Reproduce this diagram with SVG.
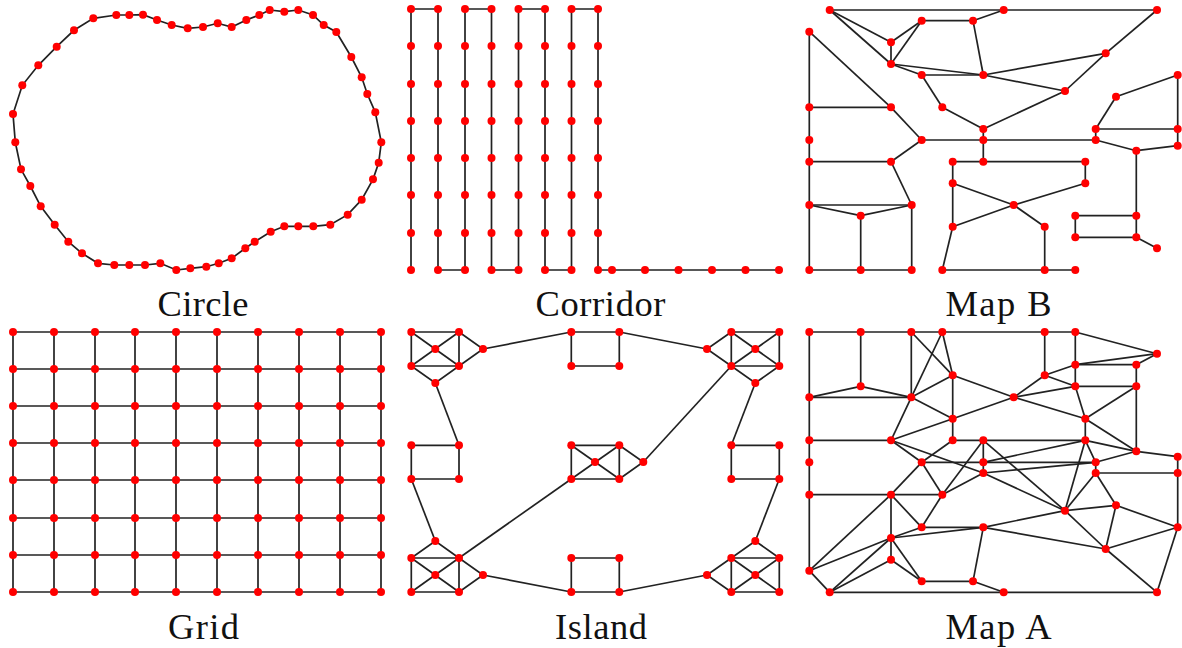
<svg xmlns="http://www.w3.org/2000/svg" width="1182" height="648" viewBox="0 0 1182 648">
<style>
#connectors path{fill:none;stroke:#222;stroke-width:1.7}
.n circle{fill:#f00;r:4px}
text{font-family:"Liberation Serif","Times New Roman",serif;font-size:36.500px;fill:#111;text-anchor:middle}
</style>
<rect width="1182" height="648" fill="#fff"/>
<g id="connectors">
<g id="edges-circle"><path d="M93.3 18.3L116.3 15L129.3 15L143 14.7L157 20L171.7 25L187.7 28.3L203 27L217.7 23.3L231.7 27L246.3 20L259.3 15L269.7 10L284.3 11.7L298.3 10L313 15L323.7 25L336.3 32L351.3 57L361.7 77.3L367.3 94L375.3 112.3L381.3 142.3L378.7 162.7L373 179.3L361.7 199.7L347.7 214.7L330.3 224.7L313.3 226.3L298.3 226.3L284.3 226.3L270.7 231.7L254.7 241.7L245.3 248.3L231.7 258.3L218.7 263.3L206.3 266.7L190.3 268.3L176.3 270L160.3 263.3L145 265L129.3 265L114.3 265L98 263.3L82 253.3L68.3 241.7L54.7 224.7L40.7 206.3L30.3 186L21 169.3L15.3 142.3L13 114L22.3 85.3L38.3 65.3L56.7 46.7L74 30.3Z"/></g>
<g id="edges-corridor"><path d="M411 270V9H438V270H465V9H491.500V270H518.500V9H545V270H571.500V9H598V270H779"/></g>
<g id="edges-grid"><path d="M13 332H381"/><path d="M13 369H381"/><path d="M13 406H381"/><path d="M13 443H381"/><path d="M13 480H381"/><path d="M13 518H381"/><path d="M13 555H381"/><path d="M13 592H381"/><path d="M13 332V592"/><path d="M54 332V592"/><path d="M95 332V592"/><path d="M135 332V592"/><path d="M176 332V592"/><path d="M217 332V592"/><path d="M258 332V592"/><path d="M299 332V592"/><path d="M340 332V592"/><path d="M381 332V592"/></g>
<g id="edges-island">
<path d="M411.300 332H459V366H411.300Z"/><path d="M411.300 332L459 366"/><path d="M459 332L411.300 366"/><path d="M459 332L483 349L459 366"/><path d="M411.300 366L435.300 383L459 366"/><path d="M483 349L571.300 332"/>
<path d="M619.300 366H571.300V332H619.300V366"/><path d="M619.300 332L707 349"/><path d="M731.300 332L707 349L731.300 366"/>
<path d="M731.300 332H779.300V366H731.300Z"/><path d="M731.300 332L779.300 366"/><path d="M779.300 332L731.300 366"/><path d="M731.300 366L755.300 383L779.300 366"/><path d="M755.300 383L731.300 445.300"/>
<path d="M731.300 445.300H779.300V479H731.300Z"/><path d="M779.300 479L755.300 541"/><path d="M731.300 558L755.300 541L779.300 558"/>
<path d="M731.300 558H779.300V592H731.300Z"/><path d="M731.300 558L779.300 592"/><path d="M779.300 558L731.300 592"/><path d="M731.300 558L707 575L731.300 592"/><path d="M707 575L619.300 592"/>
<path d="M571.300 558H619.300V592H571.300Z"/><path d="M571.300 592L483 575"/><path d="M459 558L483 575L459 592"/>
<path d="M411.300 558H459V592H411.300Z"/><path d="M411.300 558L459 592"/><path d="M459 558L411.300 592"/><path d="M411.300 558L435.300 541L459 558"/><path d="M435.300 541L411.300 479"/>
<path d="M411.300 445.300H459V479H411.300Z"/><path d="M435.300 383L459 445.300"/>
<path d="M571.300 445.300H619.300V479H571.300Z"/><path d="M571.300 445.300L619.300 479"/><path d="M619.300 445.300L571.300 479"/><path d="M619.300 445.300L643.300 462L619.300 479"/><path d="M643.300 462L731.300 366"/><path d="M571.300 479L459 558"/>
</g>
<g id="edges-mapb">
<path d="M829.700 10H1157"/><path d="M829.700 10L891 42.300"/><path d="M829.700 10L891 64"/><path d="M921.700 20.700H973"/><path d="M973 20.700L1003.700 10"/><path d="M921.700 20.700L891 42.300"/><path d="M921.700 20.700L891 64"/><path d="M891 42.300V64"/><path d="M973 20.700L983.300 75"/><path d="M891 64L983.300 75"/><path d="M891 64L921.700 75"/><path d="M921.700 75H983.300"/><path d="M983.300 75L1105.700 53.300"/><path d="M983.300 75L1065 91"/><path d="M1157 10L1105.700 53.300"/><path d="M1105.700 53.300L1065 91"/><path d="M1065 91L983.300 129"/><path d="M921.700 75L942.300 107.300"/><path d="M942.300 107.300L983.300 129"/><path d="M983.300 129V161.700"/><path d="M809.300 31.700V270"/><path d="M809.300 31.700L891 107.300"/><path d="M891 107.300L921.700 140"/><path d="M809.300 107.300H891"/><path d="M921.700 140H1095.700"/><path d="M1095.700 129V140"/><path d="M1095.700 129L1116 96.700"/><path d="M1116 96.700L1177.700 75"/><path d="M1177.700 75V145.700"/><path d="M1095.700 129H1177.700"/><path d="M1095.700 140L1136.300 150.700"/><path d="M1136.300 150.700L1177.700 145.700"/><path d="M921.700 140L891 161.700"/><path d="M809.300 161.700H891"/><path d="M891 161.700L911.700 205"/><path d="M952.700 161.700H1085.300"/><path d="M952.700 161.700V226.700"/><path d="M1085.300 161.700V183.300"/><path d="M952.700 183.300L1013.700 205"/><path d="M1085.300 183.300L1013.700 205"/><path d="M1013.700 205L952.700 226.700"/><path d="M1013.700 205L1044.700 226.700"/><path d="M1044.700 226.700V270"/><path d="M952.700 226.700L942.300 270"/><path d="M942.300 270H1075.300"/><path d="M1136.300 150.700V237.300"/><path d="M1075.300 215.700H1136.300"/><path d="M1075.300 215.700V237.300"/><path d="M1075.300 237.300H1136.300"/><path d="M1136.300 237.300L1157 248.300"/><path d="M809.300 205H911.700"/><path d="M809.300 205L860.700 215.700"/><path d="M911.700 205L860.700 215.700"/><path d="M860.700 215.700V270"/><path d="M911.700 205V270"/><path d="M809.300 270H911.700"/>
</g>
<g id="edges-mapa">
<path d="M809.300 332H1075.300"/><path d="M1075.300 332L1157 353.700"/><path d="M809.300 332V397.300"/><path d="M860.700 332V386.300"/><path d="M911.300 332V397.300"/><path d="M911.300 332L952.700 375.300"/><path d="M942.300 332L911.300 397.300"/><path d="M942.300 332L952.700 375.300"/><path d="M1044.700 332V375.300"/><path d="M1075.300 332V386.300"/><path d="M1157 353.700L1075.300 364.700"/><path d="M1157 353.700L1136.300 364.700"/><path d="M1075.300 364.700H1136.300"/><path d="M1044.700 375.300L1075.300 364.700"/><path d="M1044.700 375.300L1075.300 386.300"/><path d="M1044.700 375.300L1013.700 397.300"/><path d="M1075.300 386.300H1136.300"/><path d="M1075.300 386.300L1013.700 397.300"/><path d="M1075.300 386.300L1085.300 418.700"/><path d="M1136.300 364.700V451.300"/><path d="M1136.300 386.300L1085.300 418.700"/><path d="M952.700 375.300L911.300 397.300"/><path d="M952.700 375.300L1013.700 397.300"/><path d="M952.700 375.300V440.300"/><path d="M860.700 386.300L809.300 397.300"/><path d="M860.700 386.300L911.300 397.300"/><path d="M809.300 397.300H911.300"/><path d="M809.300 397.300V440.300"/><path d="M911.300 397.300L952.700 418.700"/><path d="M911.300 397.300L891 440.300"/><path d="M1013.700 397.300L952.700 418.700"/><path d="M1013.700 397.300L1085.300 418.700"/><path d="M952.700 418.700L891 440.300"/><path d="M1085.300 418.700V440.300"/><path d="M1085.300 418.700L1136.300 451.300"/><path d="M809.300 440.300H891"/><path d="M809.300 440.300V570.700"/><path d="M891 440.300L921.700 462.300"/><path d="M891 440.300L983.300 473"/><path d="M921.700 462.300L952.700 440.300"/><path d="M921.700 462.300H1095.700"/><path d="M952.700 440.300H1085.300"/><path d="M983.300 440.300V473"/><path d="M983.300 462.300L1085.300 440.300"/><path d="M1085.300 440.300L1136.300 451.300"/><path d="M1085.300 440.300L1095.700 462.300"/><path d="M1085.300 440.300L1065 510.700"/><path d="M1136.300 451.300L1177.700 456.700"/><path d="M1136.300 451.300L1095.700 462.300"/><path d="M1177.700 456.700V527.300"/><path d="M983.300 440.300L942.300 494.700"/><path d="M983.300 440.300L1065 510.700"/><path d="M983.300 473L1095.700 462.300"/><path d="M983.300 473L942.300 494.700"/><path d="M983.300 473L1065 510.700"/><path d="M921.700 462.300L891 494.700"/><path d="M921.700 462.300L942.300 494.700"/><path d="M1095.700 462.300V473"/><path d="M1095.700 473H1177.700"/><path d="M1095.700 473L1065 510.700"/><path d="M1095.700 473L1116 505.300"/><path d="M809.300 494.700H942.300"/><path d="M891 494.700L809.300 570.700"/><path d="M891 494.700V559.700"/><path d="M891 494.700L921.700 527.300"/><path d="M942.300 494.700L921.700 527.300"/><path d="M1116 505.300L1065 510.700"/><path d="M1116 505.300L1105.700 549"/><path d="M1116 505.300L1177.700 527.300"/><path d="M1065 510.700L983.300 527.300"/><path d="M1065 510.700L1105.700 549"/><path d="M921.700 527.300H983.300"/><path d="M921.700 527.300L891 538"/><path d="M983.300 527.300L891 538"/><path d="M983.300 527.300L1105.700 549"/><path d="M983.300 527.300L973 581.300"/><path d="M1105.700 549L1177.700 527.300"/><path d="M1105.700 549L1157 592.300"/><path d="M1177.700 527.300L1157 592.300"/><path d="M891 538L809.300 570.700"/><path d="M891 538L829.700 592.300"/><path d="M891 538L921.700 581.300"/><path d="M891 559.700L829.700 592.300"/><path d="M891 559.700L921.700 581.300"/><path d="M809.300 570.700L829.700 592.300"/><path d="M921.700 581.300H973"/><path d="M973 581.300L1003.700 592.300"/><path d="M829.700 592.300H1157"/>
</g>
</g>
<g id="nodes-circle" class="n">
<g id="c01"><circle cx="93.300" cy="18.300"/></g><g id="c02"><circle cx="116.300" cy="15"/></g><g id="c03"><circle cx="129.300" cy="15"/></g><g id="c04"><circle cx="143" cy="14.700"/></g><g id="c05"><circle cx="157" cy="20"/></g><g id="c06"><circle cx="171.700" cy="25"/></g><g id="c07"><circle cx="187.700" cy="28.300"/></g><g id="c08"><circle cx="203" cy="27"/></g><g id="c09"><circle cx="217.700" cy="23.300"/></g><g id="c10"><circle cx="231.700" cy="27"/></g><g id="c11"><circle cx="246.300" cy="20"/></g><g id="c12"><circle cx="259.300" cy="15"/></g><g id="c13"><circle cx="269.700" cy="10"/></g><g id="c14"><circle cx="284.300" cy="11.700"/></g><g id="c15"><circle cx="298.300" cy="10"/></g><g id="c16"><circle cx="313" cy="15"/></g><g id="c17"><circle cx="323.700" cy="25"/></g><g id="c18"><circle cx="336.300" cy="32"/></g><g id="c19"><circle cx="351.300" cy="57"/></g><g id="c20"><circle cx="361.700" cy="77.300"/></g><g id="c21"><circle cx="367.300" cy="94"/></g><g id="c22"><circle cx="375.300" cy="112.300"/></g><g id="c23"><circle cx="381.300" cy="142.300"/></g><g id="c24"><circle cx="378.700" cy="162.700"/></g><g id="c25"><circle cx="373" cy="179.300"/></g><g id="c26"><circle cx="361.700" cy="199.700"/></g><g id="c27"><circle cx="347.700" cy="214.700"/></g><g id="c28"><circle cx="330.300" cy="224.700"/></g><g id="c29"><circle cx="313.300" cy="226.300"/></g><g id="c30"><circle cx="298.300" cy="226.300"/></g><g id="c31"><circle cx="284.300" cy="226.300"/></g><g id="c32"><circle cx="270.700" cy="231.700"/></g><g id="c33"><circle cx="254.700" cy="241.700"/></g><g id="c34"><circle cx="245.300" cy="248.300"/></g><g id="c35"><circle cx="231.700" cy="258.300"/></g><g id="c36"><circle cx="218.700" cy="263.300"/></g><g id="c37"><circle cx="206.300" cy="266.700"/></g><g id="c38"><circle cx="190.300" cy="268.300"/></g><g id="c39"><circle cx="176.300" cy="270"/></g><g id="c40"><circle cx="160.300" cy="263.300"/></g><g id="c41"><circle cx="145" cy="265"/></g><g id="c42"><circle cx="129.300" cy="265"/></g><g id="c43"><circle cx="114.300" cy="265"/></g><g id="c44"><circle cx="98" cy="263.300"/></g><g id="c45"><circle cx="82" cy="253.300"/></g><g id="c46"><circle cx="68.300" cy="241.700"/></g><g id="c47"><circle cx="54.700" cy="224.700"/></g><g id="c48"><circle cx="40.700" cy="206.300"/></g><g id="c49"><circle cx="30.300" cy="186"/></g><g id="c50"><circle cx="21" cy="169.300"/></g><g id="c51"><circle cx="15.300" cy="142.300"/></g><g id="c52"><circle cx="13" cy="114"/></g><g id="c53"><circle cx="22.300" cy="85.300"/></g><g id="c54"><circle cx="38.300" cy="65.300"/></g><g id="c55"><circle cx="56.700" cy="46.700"/></g><g id="c56"><circle cx="74" cy="30.300"/></g>
</g>
<g id="nodes-corridor" class="n">
<g id="r01"><circle cx="411" cy="9"/></g><g id="r02"><circle cx="411" cy="46"/></g><g id="r03"><circle cx="411" cy="84"/></g><g id="r04"><circle cx="411" cy="121"/></g><g id="r05"><circle cx="411" cy="158"/></g><g id="r06"><circle cx="411" cy="195"/></g><g id="r07"><circle cx="411" cy="233"/></g><g id="r08"><circle cx="411" cy="270"/></g>
<g id="r11"><circle cx="438" cy="9"/></g><g id="r12"><circle cx="438" cy="46"/></g><g id="r13"><circle cx="438" cy="84"/></g><g id="r14"><circle cx="438" cy="121"/></g><g id="r15"><circle cx="438" cy="158"/></g><g id="r16"><circle cx="438" cy="195"/></g><g id="r17"><circle cx="438" cy="233"/></g><g id="r18"><circle cx="438" cy="270"/></g>
<g id="r21"><circle cx="465" cy="9"/></g><g id="r22"><circle cx="465" cy="46"/></g><g id="r23"><circle cx="465" cy="84"/></g><g id="r24"><circle cx="465" cy="121"/></g><g id="r25"><circle cx="465" cy="158"/></g><g id="r26"><circle cx="465" cy="195"/></g><g id="r27"><circle cx="465" cy="233"/></g><g id="r28"><circle cx="465" cy="270"/></g>
<g id="r31"><circle cx="491.500" cy="9"/></g><g id="r32"><circle cx="491.500" cy="46"/></g><g id="r33"><circle cx="491.500" cy="84"/></g><g id="r34"><circle cx="491.500" cy="121"/></g><g id="r35"><circle cx="491.500" cy="158"/></g><g id="r36"><circle cx="491.500" cy="195"/></g><g id="r37"><circle cx="491.500" cy="233"/></g><g id="r38"><circle cx="491.500" cy="270"/></g>
<g id="r41"><circle cx="518.500" cy="9"/></g><g id="r42"><circle cx="518.500" cy="46"/></g><g id="r43"><circle cx="518.500" cy="84"/></g><g id="r44"><circle cx="518.500" cy="121"/></g><g id="r45"><circle cx="518.500" cy="158"/></g><g id="r46"><circle cx="518.500" cy="195"/></g><g id="r47"><circle cx="518.500" cy="233"/></g><g id="r48"><circle cx="518.500" cy="270"/></g>
<g id="r51"><circle cx="545" cy="9"/></g><g id="r52"><circle cx="545" cy="46"/></g><g id="r53"><circle cx="545" cy="84"/></g><g id="r54"><circle cx="545" cy="121"/></g><g id="r55"><circle cx="545" cy="158"/></g><g id="r56"><circle cx="545" cy="195"/></g><g id="r57"><circle cx="545" cy="233"/></g><g id="r58"><circle cx="545" cy="270"/></g>
<g id="r61"><circle cx="571.500" cy="9"/></g><g id="r62"><circle cx="571.500" cy="46"/></g><g id="r63"><circle cx="571.500" cy="84"/></g><g id="r64"><circle cx="571.500" cy="121"/></g><g id="r65"><circle cx="571.500" cy="158"/></g><g id="r66"><circle cx="571.500" cy="195"/></g><g id="r67"><circle cx="571.500" cy="233"/></g><g id="r68"><circle cx="571.500" cy="270"/></g>
<g id="r71"><circle cx="598" cy="9"/></g><g id="r72"><circle cx="598" cy="46"/></g><g id="r73"><circle cx="598" cy="84"/></g><g id="r74"><circle cx="598" cy="121"/></g><g id="r75"><circle cx="598" cy="158"/></g><g id="r76"><circle cx="598" cy="195"/></g><g id="r77"><circle cx="598" cy="233"/></g><g id="r78"><circle cx="598" cy="270"/></g>
<g id="r81"><circle cx="612" cy="270"/></g><g id="r82"><circle cx="645" cy="270"/></g><g id="r83"><circle cx="678.500" cy="270"/></g><g id="r84"><circle cx="712" cy="270"/></g><g id="r85"><circle cx="745.500" cy="270"/></g><g id="r86"><circle cx="779" cy="270"/></g>
</g>
<g id="nodes-grid" class="n">
<g id="g11"><circle cx="13" cy="332"/></g><g id="g12"><circle cx="54" cy="332"/></g><g id="g13"><circle cx="95" cy="332"/></g><g id="g14"><circle cx="135" cy="332"/></g><g id="g15"><circle cx="176" cy="332"/></g><g id="g16"><circle cx="217" cy="332"/></g><g id="g17"><circle cx="258" cy="332"/></g><g id="g18"><circle cx="299" cy="332"/></g><g id="g19"><circle cx="340" cy="332"/></g><g id="g1a"><circle cx="381" cy="332"/></g>
<g id="g21"><circle cx="13" cy="369"/></g><g id="g22"><circle cx="54" cy="369"/></g><g id="g23"><circle cx="95" cy="369"/></g><g id="g24"><circle cx="135" cy="369"/></g><g id="g25"><circle cx="176" cy="369"/></g><g id="g26"><circle cx="217" cy="369"/></g><g id="g27"><circle cx="258" cy="369"/></g><g id="g28"><circle cx="299" cy="369"/></g><g id="g29"><circle cx="340" cy="369"/></g><g id="g2a"><circle cx="381" cy="369"/></g>
<g id="g31"><circle cx="13" cy="406"/></g><g id="g32"><circle cx="54" cy="406"/></g><g id="g33"><circle cx="95" cy="406"/></g><g id="g34"><circle cx="135" cy="406"/></g><g id="g35"><circle cx="176" cy="406"/></g><g id="g36"><circle cx="217" cy="406"/></g><g id="g37"><circle cx="258" cy="406"/></g><g id="g38"><circle cx="299" cy="406"/></g><g id="g39"><circle cx="340" cy="406"/></g><g id="g3a"><circle cx="381" cy="406"/></g>
<g id="g41"><circle cx="13" cy="443"/></g><g id="g42"><circle cx="54" cy="443"/></g><g id="g43"><circle cx="95" cy="443"/></g><g id="g44"><circle cx="135" cy="443"/></g><g id="g45"><circle cx="176" cy="443"/></g><g id="g46"><circle cx="217" cy="443"/></g><g id="g47"><circle cx="258" cy="443"/></g><g id="g48"><circle cx="299" cy="443"/></g><g id="g49"><circle cx="340" cy="443"/></g><g id="g4a"><circle cx="381" cy="443"/></g>
<g id="g51"><circle cx="13" cy="480"/></g><g id="g52"><circle cx="54" cy="480"/></g><g id="g53"><circle cx="95" cy="480"/></g><g id="g54"><circle cx="135" cy="480"/></g><g id="g55"><circle cx="176" cy="480"/></g><g id="g56"><circle cx="217" cy="480"/></g><g id="g57"><circle cx="258" cy="480"/></g><g id="g58"><circle cx="299" cy="480"/></g><g id="g59"><circle cx="340" cy="480"/></g><g id="g5a"><circle cx="381" cy="480"/></g>
<g id="g61"><circle cx="13" cy="518"/></g><g id="g62"><circle cx="54" cy="518"/></g><g id="g63"><circle cx="95" cy="518"/></g><g id="g64"><circle cx="135" cy="518"/></g><g id="g65"><circle cx="176" cy="518"/></g><g id="g66"><circle cx="217" cy="518"/></g><g id="g67"><circle cx="258" cy="518"/></g><g id="g68"><circle cx="299" cy="518"/></g><g id="g69"><circle cx="340" cy="518"/></g><g id="g6a"><circle cx="381" cy="518"/></g>
<g id="g71"><circle cx="13" cy="555"/></g><g id="g72"><circle cx="54" cy="555"/></g><g id="g73"><circle cx="95" cy="555"/></g><g id="g74"><circle cx="135" cy="555"/></g><g id="g75"><circle cx="176" cy="555"/></g><g id="g76"><circle cx="217" cy="555"/></g><g id="g77"><circle cx="258" cy="555"/></g><g id="g78"><circle cx="299" cy="555"/></g><g id="g79"><circle cx="340" cy="555"/></g><g id="g7a"><circle cx="381" cy="555"/></g>
<g id="g81"><circle cx="13" cy="592"/></g><g id="g82"><circle cx="54" cy="592"/></g><g id="g83"><circle cx="95" cy="592"/></g><g id="g84"><circle cx="135" cy="592"/></g><g id="g85"><circle cx="176" cy="592"/></g><g id="g86"><circle cx="217" cy="592"/></g><g id="g87"><circle cx="258" cy="592"/></g><g id="g88"><circle cx="299" cy="592"/></g><g id="g89"><circle cx="340" cy="592"/></g><g id="g8a"><circle cx="381" cy="592"/></g>
</g>
<g id="nodes-island" class="n">
<g id="i01"><circle cx="411.300" cy="332"/></g><g id="i02"><circle cx="459" cy="332"/></g><g id="i03"><circle cx="435.300" cy="349"/></g><g id="i04"><circle cx="483" cy="349"/></g><g id="i05"><circle cx="411.300" cy="366"/></g><g id="i06"><circle cx="459" cy="366"/></g><g id="i07"><circle cx="435.300" cy="383"/></g>
<g id="i08"><circle cx="571.300" cy="332"/></g><g id="i09"><circle cx="619.300" cy="332"/></g><g id="i10"><circle cx="571.300" cy="366"/></g><g id="i11"><circle cx="619.300" cy="366"/></g>
<g id="i12"><circle cx="707" cy="349"/></g><g id="i13"><circle cx="731.300" cy="332"/></g><g id="i14"><circle cx="779.300" cy="332"/></g><g id="i15"><circle cx="755.300" cy="349"/></g><g id="i16"><circle cx="731.300" cy="366"/></g><g id="i17"><circle cx="779.300" cy="366"/></g><g id="i18"><circle cx="755.300" cy="383"/></g>
<g id="i19"><circle cx="411.300" cy="445.300"/></g><g id="i20"><circle cx="459" cy="445.300"/></g><g id="i21"><circle cx="411.300" cy="479"/></g><g id="i22"><circle cx="459" cy="479"/></g>
<g id="i23"><circle cx="571.300" cy="445.300"/></g><g id="i24"><circle cx="619.300" cy="445.300"/></g><g id="i25"><circle cx="595" cy="462"/></g><g id="i26"><circle cx="643.300" cy="462"/></g><g id="i27"><circle cx="571.300" cy="479"/></g><g id="i28"><circle cx="619.300" cy="479"/></g>
<g id="i29"><circle cx="731.300" cy="445.300"/></g><g id="i30"><circle cx="779.300" cy="445.300"/></g><g id="i31"><circle cx="731.300" cy="479"/></g><g id="i32"><circle cx="779.300" cy="479"/></g>
<g id="i33"><circle cx="435.300" cy="541"/></g><g id="i34"><circle cx="411.300" cy="558"/></g><g id="i35"><circle cx="459" cy="558"/></g><g id="i36"><circle cx="435.300" cy="575"/></g><g id="i37"><circle cx="483" cy="575"/></g><g id="i38"><circle cx="411.300" cy="592"/></g><g id="i39"><circle cx="459" cy="592"/></g>
<g id="i40"><circle cx="571.300" cy="558"/></g><g id="i41"><circle cx="619.300" cy="558"/></g><g id="i42"><circle cx="571.300" cy="592"/></g><g id="i43"><circle cx="619.300" cy="592"/></g>
<g id="i44"><circle cx="707" cy="575"/></g><g id="i45"><circle cx="755.300" cy="541"/></g><g id="i46"><circle cx="731.300" cy="558"/></g><g id="i47"><circle cx="779.300" cy="558"/></g><g id="i48"><circle cx="755.300" cy="575"/></g><g id="i49"><circle cx="731.300" cy="592"/></g><g id="i50"><circle cx="779.300" cy="592"/></g>
</g>
<g id="nodes-mapb" class="n">
<g id="b01"><circle cx="829.700" cy="10"/></g><g id="b02"><circle cx="1003.700" cy="10"/></g><g id="b03"><circle cx="1157" cy="10"/></g><g id="b04"><circle cx="921.700" cy="20.700"/></g><g id="b05"><circle cx="973" cy="20.700"/></g><g id="b06"><circle cx="809.300" cy="31.700"/></g><g id="b07"><circle cx="891" cy="42.300"/></g><g id="b08"><circle cx="1105.700" cy="53.300"/></g><g id="b09"><circle cx="891" cy="64"/></g><g id="b10"><circle cx="921.700" cy="75"/></g><g id="b11"><circle cx="983.300" cy="75"/></g><g id="b12"><circle cx="1177.700" cy="75"/></g><g id="b13"><circle cx="1065" cy="91"/></g><g id="b14"><circle cx="1116" cy="96.700"/></g><g id="b15"><circle cx="809.300" cy="107.300"/></g><g id="b16"><circle cx="891" cy="107.300"/></g><g id="b17"><circle cx="942.300" cy="107.300"/></g><g id="b18"><circle cx="983.300" cy="129"/></g><g id="b19"><circle cx="1095.700" cy="129"/></g><g id="b20"><circle cx="1177.700" cy="129"/></g><g id="b21"><circle cx="809.300" cy="140"/></g><g id="b22"><circle cx="921.700" cy="140"/></g><g id="b23"><circle cx="983.300" cy="140"/></g><g id="b24"><circle cx="1095.700" cy="140"/></g><g id="b25"><circle cx="1177.700" cy="145.700"/></g><g id="b26"><circle cx="1136.300" cy="150.700"/></g><g id="b27"><circle cx="809.300" cy="161.700"/></g><g id="b28"><circle cx="891" cy="161.700"/></g><g id="b29"><circle cx="952.700" cy="161.700"/></g><g id="b30"><circle cx="983.300" cy="161.700"/></g><g id="b31"><circle cx="1085.300" cy="161.700"/></g><g id="b32"><circle cx="952.700" cy="183.300"/></g><g id="b33"><circle cx="1085.300" cy="183.300"/></g><g id="b34"><circle cx="809.300" cy="205"/></g><g id="b35"><circle cx="911.700" cy="205"/></g><g id="b36"><circle cx="1013.700" cy="205"/></g><g id="b37"><circle cx="860.700" cy="215.700"/></g><g id="b38"><circle cx="1075.300" cy="215.700"/></g><g id="b39"><circle cx="1136.300" cy="215.700"/></g><g id="b40"><circle cx="952.700" cy="226.700"/></g><g id="b41"><circle cx="1044.700" cy="226.700"/></g><g id="b42"><circle cx="1075.300" cy="237.300"/></g><g id="b43"><circle cx="1136.300" cy="237.300"/></g><g id="b44"><circle cx="1157" cy="248.300"/></g><g id="b45"><circle cx="809.300" cy="270"/></g><g id="b46"><circle cx="860.700" cy="270"/></g><g id="b47"><circle cx="911.700" cy="270"/></g><g id="b48"><circle cx="942.300" cy="270"/></g><g id="b49"><circle cx="1044.700" cy="270"/></g><g id="b50"><circle cx="1075.300" cy="270"/></g>
</g>
<g id="nodes-mapa" class="n">
<g id="a01"><circle cx="809.300" cy="332"/></g><g id="a02"><circle cx="860.700" cy="332"/></g><g id="a03"><circle cx="911.300" cy="332"/></g><g id="a04"><circle cx="942.300" cy="332"/></g><g id="a05"><circle cx="1044.700" cy="332"/></g><g id="a06"><circle cx="1075.300" cy="332"/></g><g id="a07"><circle cx="1157" cy="353.700"/></g><g id="a08"><circle cx="1075.300" cy="364.700"/></g><g id="a09"><circle cx="1136.300" cy="364.700"/></g><g id="a10"><circle cx="952.700" cy="375.300"/></g><g id="a11"><circle cx="1044.700" cy="375.300"/></g><g id="a12"><circle cx="860.700" cy="386.300"/></g><g id="a13"><circle cx="1075.300" cy="386.300"/></g><g id="a14"><circle cx="1136.300" cy="386.300"/></g><g id="a15"><circle cx="809.300" cy="397.300"/></g><g id="a16"><circle cx="911.300" cy="397.300"/></g><g id="a17"><circle cx="1013.700" cy="397.300"/></g><g id="a18"><circle cx="952.700" cy="418.700"/></g><g id="a19"><circle cx="1085.300" cy="418.700"/></g><g id="a20"><circle cx="809.300" cy="440.300"/></g><g id="a21"><circle cx="891" cy="440.300"/></g><g id="a22"><circle cx="952.700" cy="440.300"/></g><g id="a23"><circle cx="983.300" cy="440.300"/></g><g id="a24"><circle cx="1085.300" cy="440.300"/></g><g id="a25"><circle cx="1136.300" cy="451.300"/></g><g id="a26"><circle cx="1177.700" cy="456.700"/></g><g id="a27"><circle cx="809.300" cy="462.300"/></g><g id="a28"><circle cx="921.700" cy="462.300"/></g><g id="a29"><circle cx="983.300" cy="462.300"/></g><g id="a30"><circle cx="1095.700" cy="462.300"/></g><g id="a31"><circle cx="983.300" cy="473"/></g><g id="a32"><circle cx="1095.700" cy="473"/></g><g id="a33"><circle cx="1177.700" cy="473"/></g><g id="a34"><circle cx="809.300" cy="494.700"/></g><g id="a35"><circle cx="891" cy="494.700"/></g><g id="a36"><circle cx="942.300" cy="494.700"/></g><g id="a37"><circle cx="1065" cy="510.700"/></g><g id="a38"><circle cx="1116" cy="505.300"/></g><g id="a39"><circle cx="921.700" cy="527.300"/></g><g id="a40"><circle cx="983.300" cy="527.300"/></g><g id="a41"><circle cx="1177.700" cy="527.300"/></g><g id="a42"><circle cx="891" cy="538"/></g><g id="a43"><circle cx="891" cy="559.700"/></g><g id="a44"><circle cx="1105.700" cy="549"/></g><g id="a45"><circle cx="809.300" cy="570.700"/></g><g id="a46"><circle cx="921.700" cy="581.300"/></g><g id="a47"><circle cx="973" cy="581.300"/></g><g id="a48"><circle cx="829.700" cy="592.300"/></g><g id="a49"><circle cx="1003.700" cy="592.300"/></g><g id="a50"><circle cx="1157" cy="592.300"/></g>
</g>
<g id="captions">
<text x="203" y="316" textLength="91">Circle</text>
<text x="600.500" y="316" textLength="130">Corridor</text>
<text x="998.500" y="316" textLength="106">Map B</text>
<text x="203.500" y="639" textLength="71">Grid</text>
<text x="601" y="639" textLength="92">Island</text>
<text x="998.500" y="639" textLength="106">Map A</text>
</g>
</svg>
